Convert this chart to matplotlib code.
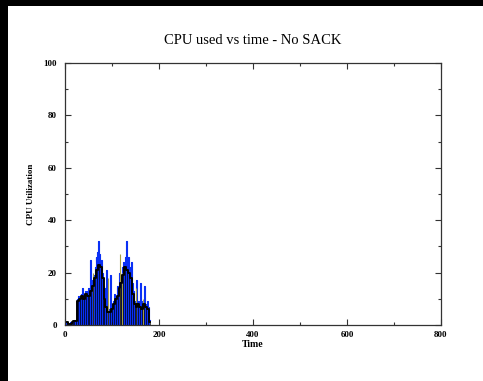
import numpy as np
import matplotlib
matplotlib.use("Agg")
import matplotlib.pyplot as plt
from matplotlib.patches import Rectangle
from matplotlib.ticker import MultipleLocator

# blue series, one value every 2 time units (t = 0..180)
blue_time = np.arange(0, 182, 2)
blue_vals = [1, 0.5, 1, 0.5, 0.5, 0.5, 1, 0.5, 1, 1.5, 2, 1.5, 2,
             10, 11, 10, 9, 12, 11, 14, 12, 11, 13, 12, 13, 14,
             12, 25, 14, 17, 16, 19, 22, 26, 24, 28, 32, 27, 24, 25, 20,
             15, 14, 12, 21, 8, 6, 5, 19, 7, 5,
             6, 9, 12, 10, 11, 15, 13, 20, 17,
             18, 22, 24, 21, 26, 32, 23, 24, 26, 22, 20, 24, 16, 13,
             9, 8, 17, 7, 9, 8, 16, 9, 8, 7, 8, 15, 6, 8, 9, 7, 2]

# black series, one value every 4 time units
black_time = np.arange(0, 184, 4)
black_vals = [1, 1, 0.5, 0.5, 1, 1.5, 1.5,
              9, 10, 11, 10, 12, 11,
              11, 13, 15, 18, 21, 23, 22,
              18, 10, 7, 5, 5, 6,
              8, 10, 11, 14, 16, 19,
              22, 21, 20, 18, 12, 8,
              7, 8, 7, 6, 8, 7, 6, 1]

# olive spikes
spike_time = [60, 92, 118, 122, 150, 166]
spike_vals = [20, 18, 27, 20, 14, 10]

serif = ["Liberation Serif", "DejaVu Serif"]

fig = plt.figure(figsize=(4.83, 3.81), dpi=100)
fig.patch.set_facecolor("white")
# black frame strips on top and left
fig.patches.append(Rectangle((0, 1 - 6 / 381), 1, 6 / 381, transform=fig.transFigure,
                             facecolor="black", edgecolor="none", zorder=0))
fig.patches.append(Rectangle((0, 0), 8 / 483, 1, transform=fig.transFigure,
                             facecolor="black", edgecolor="none", zorder=0))

ax = fig.add_axes([65 / 483, 56 / 381, 376 / 483, 262 / 381])

ax.fill_between(blue_time, blue_vals, step="mid", color="#0a30f5", lw=0)
ax.step(blue_time, blue_vals, where="mid", color="#0a30f5", lw=0.8)
ax.vlines(spike_time, 0, spike_vals, color="#a8a040", lw=0.8)
ax.step(black_time, black_vals, where="mid", color="black", lw=1.4)
ax.vlines(black_time, 0, black_vals, color="black", lw=0.5)

ax.set_xlim(0, 800)
ax.set_ylim(0, 100)
ax.xaxis.set_major_locator(MultipleLocator(200))
ax.xaxis.set_minor_locator(MultipleLocator(100))
ax.yaxis.set_major_locator(MultipleLocator(20))
ax.yaxis.set_minor_locator(MultipleLocator(10))
ax.tick_params(which="both", direction="in", top=True, right=True, width=0.8,
               colors="#333333", labelcolor="black")
ax.tick_params(which="major", length=4)
ax.tick_params(which="minor", length=2)
ax.tick_params(axis="x", pad=4)
ax.tick_params(axis="y", pad=6)
for lbl in ax.get_xticklabels() + ax.get_yticklabels():
    lbl.set_family(serif)
    lbl.set_fontsize(6.5)
    lbl.set_fontweight("bold")
for sp in ax.spines.values():
    sp.set_linewidth(0.9)
    sp.set_color("#333333")

ax.set_xlabel("Time", family=serif, fontsize=7, fontweight="bold", labelpad=1)
ax.set_ylabel("CPU Utilization", family=serif, fontsize=6.5, fontweight="bold", labelpad=6)
ax.set_title("CPU used vs time - No SACK", family=serif, fontsize=10.5, pad=14)

fig.savefig("out.png", dpi=100, facecolor=fig.get_facecolor())
